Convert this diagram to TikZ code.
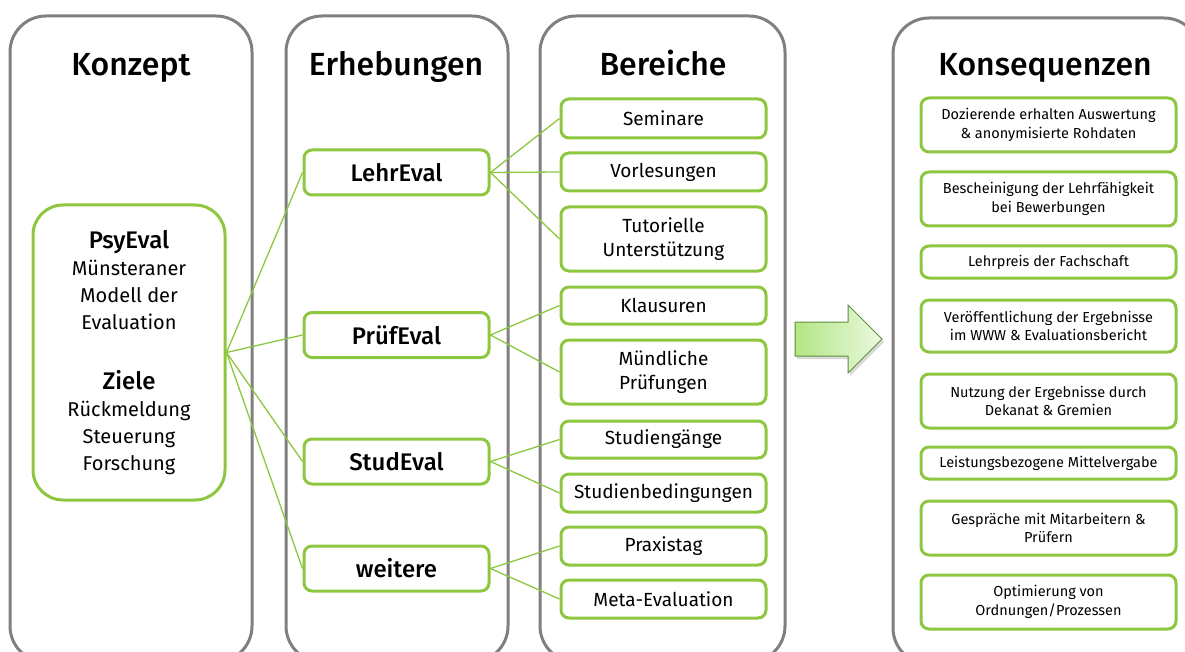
\documentclass[tikz,border=0pt]{standalone}
\usepackage{fontspec}
\setmainfont{Fira Sans}[BoldFont={Fira Sans Medium}]
\definecolor{lgreen}{RGB}{141,198,63}
\definecolor{pgray}{RGB}{128,128,128}
\definecolor{adark}{RGB}{94,143,58}
\definecolor{aleft}{RGB}{178,230,130}
\definecolor{aright}{RGB}{235,248,225}
\begin{document}
\begin{tikzpicture}[x=1pt,y=-1pt,
  panel/.style={draw=pgray, line width=3pt, rounded corners=36pt},
  ptitle/.style={font=\fontsize{32}{38}\selectfont\bfseries, inner sep=0pt, anchor=base},
  gbox/.style={draw=lgreen, line width=3pt, rounded corners=8pt, fill=white, align=center, inner sep=0pt},
  ebox/.style={gbox, minimum width=185pt, minimum height=45pt, font=\fontsize{24}{28}\selectfont\bfseries},
  bbox/.style={gbox, minimum width=205pt, font=\fontsize{19}{24}\selectfont},
  kbox/.style={gbox, minimum width=255pt, font=\fontsize{14.5}{18.5}\selectfont},
  conn/.style={draw=lgreen, line width=1.3pt}
]
\useasboundingbox (0,0) rectangle (1185,652);
\clip (0,0) rectangle (1185,652);
% panels
\draw[panel] (10,16) rectangle (252,662);
\draw[panel] (286,16) rectangle (508,662);
\draw[panel] (540,16) rectangle (785,662);
\draw[panel] (893,18) rectangle (1200,664);
% titles
\node[ptitle] (t1) at (131,76) {Konzept};
\node[ptitle] (t2) at (396,76) {Erhebungen};
\node[ptitle] (t3) at (663,76) {Bereiche};
\node[ptitle] (t4) at (1045,76) {Konsequenzen};
% PsyEval
\node[gbox, rounded corners=30pt, minimum width=192pt, minimum height=295pt,
  font=\fontsize{20}{27}\selectfont] (psy) at (129,352.5)
  {{\fontsize{24}{27}\selectfont\bfseries PsyEval}\\M\"unsteraner\\Modell der\\Evaluation\\[33pt]
   {\fontsize{24}{27}\selectfont\bfseries Ziele}\\R\"uckmeldung\\Steuerung\\Forschung};
% Erhebungen
\node[ebox] (lehr) at (396.5,172.5) {LehrEval};
\node[ebox] (pruef) at (396.5,335) {Pr\"ufEval};
\node[ebox] (stud) at (396.5,461.5) {StudEval};
\node[ebox] (weit) at (396.5,568.5) {weitere};
% Bereiche
\node[bbox, minimum height=39pt] (sem) at (663.5,118.5) {Seminare};
\node[bbox, minimum height=38pt] (vor) at (663.5,172) {Vorlesungen};
\node[bbox, minimum height=64pt] (tut) at (663.5,239) {Tutorielle\\Unterst\"utzung};
\node[bbox, minimum height=37pt] (kla) at (663.5,305.5) {Klausuren};
\node[bbox, minimum height=64pt] (mue) at (663.5,372) {M\"undliche\\Pr\"ufungen};
\node[bbox, minimum height=37pt] (sg) at (663.5,439.5) {Studieng\"ange};
\node[bbox, minimum height=38pt] (sb) at (663.5,493) {Studienbedingungen};
\node[bbox, minimum height=38pt] (pra) at (663.5,546) {Praxistag};
\node[bbox, minimum height=38pt] (meta) at (663.5,599) {Meta-Evaluation};
% connectors
\draw[conn] (psy.east) -- (lehr.west);
\draw[conn] (psy.east) -- (pruef.west);
\draw[conn] (psy.east) -- (stud.west);
\draw[conn] (psy.east) -- (weit.west);
\draw[conn] (lehr.east) -- (sem.west);
\draw[conn] (lehr.east) -- (vor.west);
\draw[conn] (lehr.east) -- (tut.west);
\draw[conn] (pruef.east) -- (kla.west);
\draw[conn] (pruef.east) -- (mue.west);
\draw[conn] (stud.east) -- (sg.west);
\draw[conn] (stud.east) -- (sb.west);
\draw[conn] (weit.east) -- (pra.west);
\draw[conn] (weit.east) -- (meta.west);
% arrow
\fill[black!15] (797,325) -- (850,325) -- (850,308) -- (884,342) -- (850,376) -- (850,359) -- (797,359) -- cycle;
\shade[left color=aleft, right color=aright, draw=adark, line width=1pt]
  (795,322) -- (848,322) -- (848,305) -- (882,339) -- (848,373) -- (848,356) -- (795,356) -- cycle;
% Konsequenzen
\node[kbox, minimum height=54pt] (k1) at (1048.5,125) {Dozierende erhalten Auswertung\\\& anonymisierte Rohdaten};
\node[kbox, minimum height=54pt] (k2) at (1048.5,199) {Bescheinigung der Lehrf\"ahigkeit\\bei Bewerbungen};
\node[kbox, minimum height=32pt] (k3) at (1048.5,262) {Lehrpreis der Fachschaft};
\node[kbox, minimum height=52pt] (k4) at (1048.5,326) {Ver\"offentlichung der Ergebnisse\\im WWW \& Evaluationsbericht};
\node[kbox, minimum height=54pt] (k5) at (1048.5,401) {Nutzung der Ergebnisse durch\\Dekanat \& Gremien};
\node[kbox, minimum height=32pt] (k6) at (1048.5,463) {Leistungsbezogene Mittelvergabe};
\node[kbox, minimum height=54pt] (k7) at (1048.5,528) {Gespr\"ache mit Mitarbeitern \&\\Pr\"ufern};
\node[kbox, minimum height=54pt] (k8) at (1048.5,602) {Optimierung von\\Ordnungen/Prozessen};
\end{tikzpicture}
\end{document}
